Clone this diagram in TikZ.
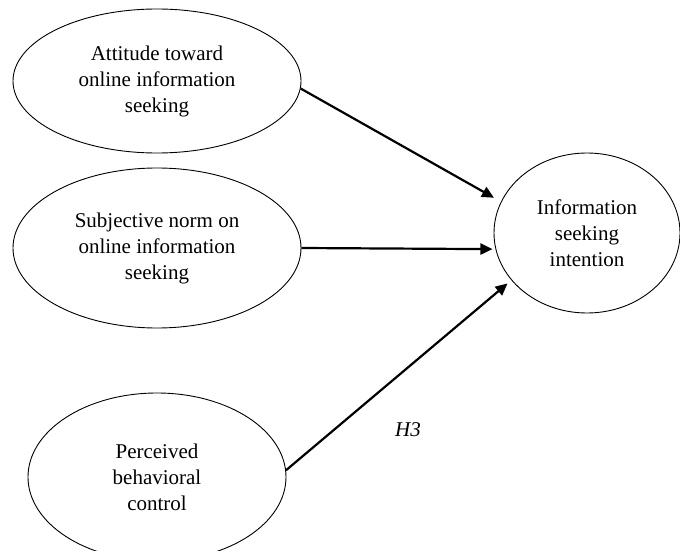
\documentclass[tikz,border=0pt]{standalone}
\usepackage{fontspec}
\setmainfont{Liberation Serif}
\usetikzlibrary{shapes.geometric,arrows.meta}
\tikzset{
  oval/.style={ellipse, draw, line width=0.9pt, inner sep=0pt, align=center,
    font=\fontsize{21}{26}\selectfont},
  arr/.style={line width=2.2pt, -{Triangle[length=12pt,width=11pt]}}
}
\begin{document}
\begin{tikzpicture}[x=1pt,y=1pt]
\useasboundingbox (0,0) rectangle (680,550);
\node[oval, minimum width=288pt, minimum height=144pt] (e1) at (157,469)
  {Attitude toward\\online information\\seeking};
\node[oval, minimum width=288pt, minimum height=160pt] (e2) at (157,302)
  {Subjective norm on\\online information\\seeking};
\node[oval, minimum width=258pt, minimum height=168pt] (e3) at (157,73)
  {Perceived\\behavioral\\control};
\node[oval, minimum width=186pt, minimum height=160pt] (e4) at (587,317)
  {Information\\seeking\\intention};
\draw[arr, shorten >=8pt] (e1.-3) -- (e4.160.7);
\draw[arr, shorten >=3pt] (e2.east) -- (e4.190);
\draw[arr, shorten >=5pt] (e3.3) -- (e4.212.3);
\node[font=\fontsize{21}{26}\selectfont\itshape] (h3) at (408,120) {H3};
\end{tikzpicture}
\end{document}
